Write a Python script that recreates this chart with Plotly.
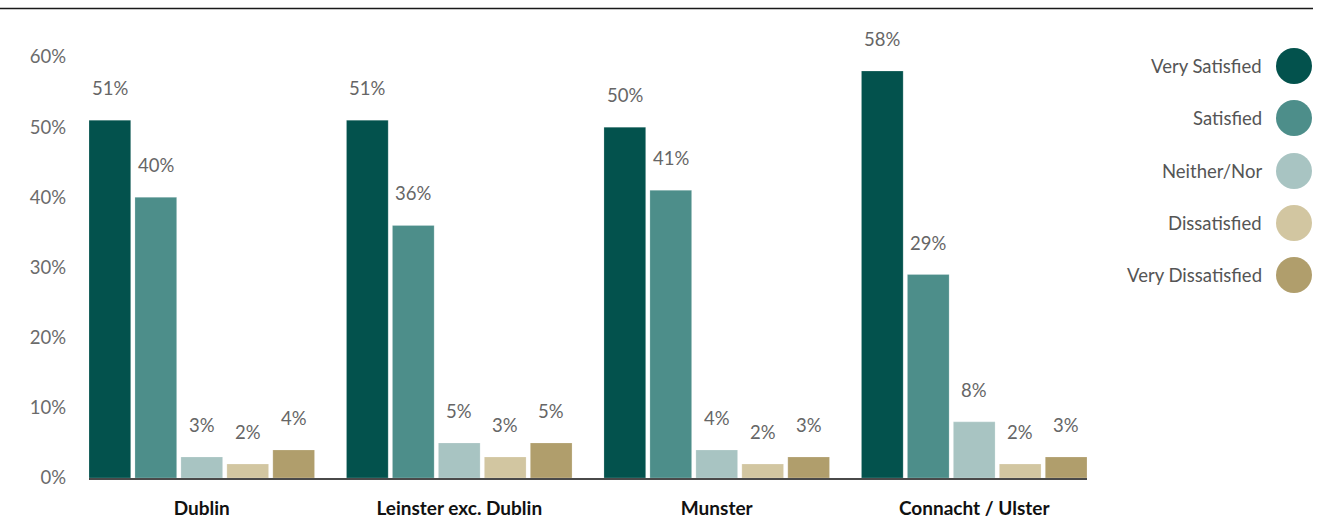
import plotly.graph_objects as go

regions = ["Dublin", "Leinster exc. Dublin", "Munster", "Connacht / Ulster"]
series_names = ["Very Satisfied", "Satisfied", "Neither/Nor", "Dissatisfied", "Very Dissatisfied"]
very_satisfied = [51, 51, 50, 58]
satisfied = [40, 36, 41, 29]
neither_nor = [3, 5, 4, 8]
dissatisfied = [2, 3, 2, 2]
very_dissatisfied = [4, 5, 3, 3]
y_ticks = [0, 10, 20, 30, 40, 50, 60]

series_values = [very_satisfied, satisfied, neither_nor, dissatisfied, very_dissatisfied]
colors = ["#03524D", "#4D8E8A", "#A8C4C2", "#D2C6A1", "#B09E6C"]

FONT = "Lato"
TXT = 18.5
pitch = 0.1785      # distance between bar centres inside a group
bar_w = 0.162       # bar width in group units
n = len(series_names)

fig = go.Figure()
annotations = []
for k, (name, vals, col) in enumerate(zip(series_names, series_values, colors)):
    off = (k - (n - 1) / 2) * pitch
    xs = [i + off for i in range(len(regions))]
    fig.add_trace(go.Bar(
        x=xs, y=vals, width=bar_w, name=name,
        marker=dict(color=col, line=dict(color="rgba(255,255,255,0.35)", width=0.6)),
        showlegend=False, hoverinfo="y",
    ))
    for x, v in zip(xs, vals):
        annotations.append(dict(
            x=x, y=v, xref="x", yref="y", text=f"{v}%", showarrow=False,
            yanchor="middle", yshift=32,
            font=dict(family=FONT, size=TXT, color="#666666"),
        ))

# Legend drawn on the right: label then a filled circle
legend_y_px = [66, 118, 171, 223, 275]
top_px, bottom_px = 57, 478
left_px, right_px = 89, 1087
H = bottom_px - top_px
W = right_px - left_px

def py(p):
    return (bottom_px - p) / H

def px(p):
    return (p - left_px) / W

shapes = []
for name, col, ly in zip(series_names, colors, legend_y_px):
    shapes.append(dict(
        type="circle", xref="paper", yref="paper",
        xsizemode="pixel", ysizemode="pixel",
        xanchor=px(1294), yanchor=py(ly),
        x0=-18, x1=18, y0=-18, y1=18,
        fillcolor=col, line=dict(width=0),
    ))
    annotations.append(dict(
        x=px(1264), y=py(ly), xref="paper", yref="paper", text=name,
        showarrow=False, xanchor="right", yanchor="middle",
        font=dict(family=FONT, size=TXT, color="#555555"),
    ))

# Rule across the top of the figure
shapes.append(dict(
    type="line", xref="paper", yref="paper",
    x0=px(0), x1=px(1313), y0=py(8.5), y1=py(8.5),
    line=dict(color="#1a1a1a", width=1.6),
))

half = (n - 1) / 2 * pitch + bar_w / 2
fig.update_layout(
    width=1332, height=518,
    margin=dict(l=left_px, r=1332 - right_px, t=top_px, b=518 - bottom_px),
    plot_bgcolor="white", paper_bgcolor="white",
    barmode="overlay",
    showlegend=False,
    annotations=annotations,
    shapes=shapes,
    font=dict(family=FONT),
    xaxis=dict(
        range=[-half, len(regions) - 1 + half],
        tickvals=list(range(len(regions))), ticktext=regions,
        tickfont=dict(family="Lato", size=19, color="#111111", weight="bold"),
        showgrid=False, zeroline=False, automargin=False,
        showline=True, linecolor="#4a4a4a", linewidth=1.6,
        ticks="", ticklabelstandoff=12,
    ),
    yaxis=dict(
        range=[0, 60], tickvals=y_ticks,
        ticktext=[f"{t}%" for t in y_ticks],
        tickfont=dict(family=FONT, size=TXT, color="#6b6b6b"),
        showgrid=False, zeroline=False, showline=False, automargin=False,
        ticks="", ticklabelstandoff=22,
    ),
)

fig.write_html("out.html")
